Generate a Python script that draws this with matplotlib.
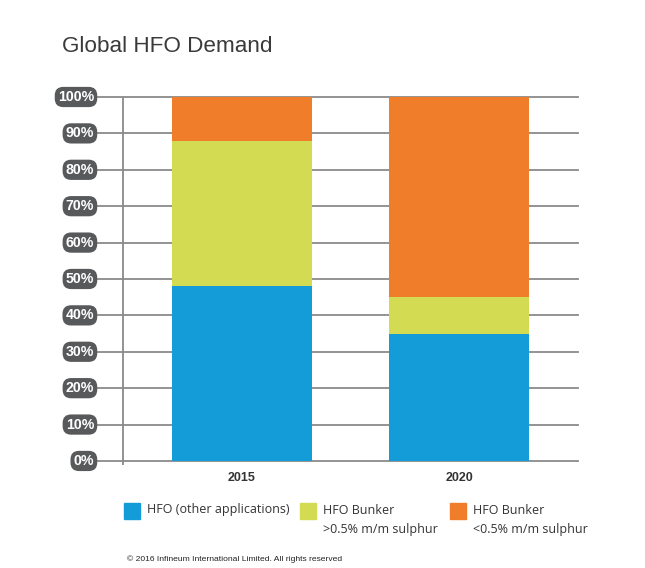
import matplotlib.pyplot as plt
from matplotlib.patches import Rectangle

# datos (porcentaje)
years = ["2015", "2020"]
hfo_other = [48, 35]
bunker_high = [40, 10]
bunker_low = [12, 55]
series_labels = ["HFO (other applications)", "HFO Bunker\n>0.5% m/m sulphur",
                 "HFO Bunker\n<0.5% m/m sulphur"]
colors = ["#139cd8", "#d3db52", "#ef7d2a"]
yticks = [0, 10, 20, 30, 40, 50, 60, 70, 80, 90, 100]

W, H = 645, 568
fig = plt.figure(figsize=(W / 100, H / 100), dpi=100)
ax = fig.add_axes([97 / W, 1 - 464.6 / H, (578 - 97) / W, (464.6 - 97) / H])

x = list(range(len(years)))
bottoms = [0] * len(years)
for vals, c in zip([hfo_other, bunker_high, bunker_low], colors):
    ax.bar(x, vals, bottom=bottoms, width=0.645, color=c, zorder=3)
    bottoms = [b + v for b, v in zip(bottoms, vals)]

ax.set_xlim(-0.668, 1.548)
ax.set_ylim(-1, 100)
for t in yticks:
    ax.axhline(t, color="#8a8a8a", lw=1.3, zorder=1, clip_on=False)
    ax.text(-0.006, t, f"{t}%", transform=ax.get_yaxis_transform(), ha="right",
            va="center", color="white", fontsize=10.2, fontweight="bold",
            family="Liberation Sans",
            bbox=dict(boxstyle="round,pad=0.22,rounding_size=0.6",
                      fc="#58595b", ec="none"))
ax.axvline(-0.548, color="#8a8a8a", lw=1.3, zorder=1)

for i, yr in enumerate(years):
    ax.text(i, -4.6, yr, ha="center", va="center", fontsize=9,
            fontweight="bold", color="#333333", family="Liberation Sans")

for s in ax.spines.values():
    s.set_visible(False)
ax.set_xticks([])
ax.set_yticks([])

fig.text(62 / W, 1 - 47 / H, "Global HFO Demand", fontsize=16.2,
         color="#3a3a3a", family="Liberation Sans", va="center")

# leyenda manual
leg_x = [124, 300, 450]
for lx, lab, c in zip(leg_x, series_labels, colors):
    fig.add_artist(Rectangle((lx / W, 1 - 519 / H), 16 / W, 16 / H,
                             transform=fig.transFigure, color=c))
    fig.text((lx + 23) / W, 1 - 503.5 / H, lab, fontsize=9, va="top",
             color="#333333", family="Open Sans", linespacing=1.6)

fig.text(127 / W, 1 - 559 / H,
         "\u00a9 2016 Infineum International Limited. All rights reserved",
         fontsize=6.1, va="center", color="#222222", family="Liberation Sans")

fig.savefig("out.png", dpi=100)
